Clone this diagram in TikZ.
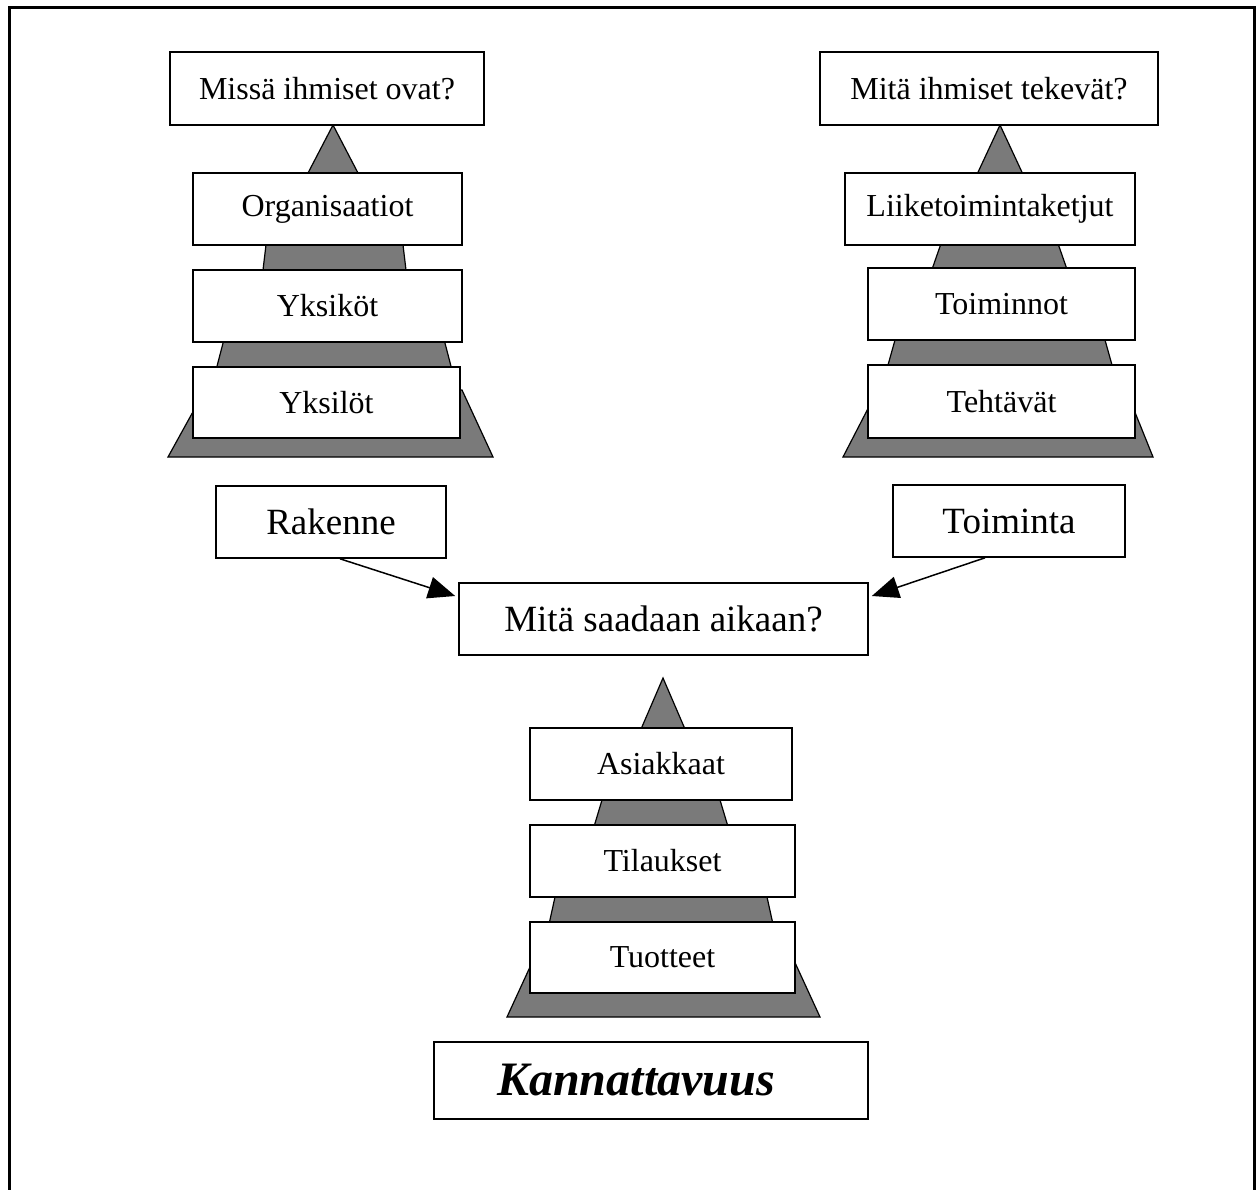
\documentclass[tikz,border=0pt]{standalone}
\usepackage{fontspec}
\setmainfont{Liberation Serif}
\usetikzlibrary{arrows.meta}
\definecolor{pyrgray}{RGB}{122,122,122}
\begin{document}
\begin{tikzpicture}[x=1pt,y=-1pt,
  tier/.style={draw=black, line width=1.6pt, fill=white, inner sep=0pt,
    font=\fontsize{32}{38}\selectfont},
  topic/.style={draw=black, line width=1.6pt, fill=white, inner sep=0pt,
    font=\fontsize{37}{44}\selectfont},
  goal/.style={draw=black, line width=1.6pt, fill=white, inner sep=0pt,
    font=\fontsize{48}{56}\selectfont\bfseries\itshape},
  layer/.style={draw=black, line width=1.2pt, fill=pyrgray, line join=miter},
  link/.style={draw=black, line width=1.5pt, -{Triangle[length=27pt,width=22pt]}}
]
\useasboundingbox (0,0) rectangle (1258,1189);

% outer frame, open at the bottom
\draw[line width=3pt] (9,1200) -- (9,7) -- (1254,7) -- (1254,1200);

% ---- left pyramid: structure ----
\fill[layer] (333,125) -- (371,198) -- (295,198) -- cycle;
\fill[layer] (267.2,235) -- (401.8,235) -- (407.2,280) -- (261.8,280) -- cycle;
\fill[layer] (225.9,332) -- (442.1,332) -- (453.8,377) -- (214.2,377) -- cycle;
\fill[layer] (205,390) -- (462,390) -- (493,457) -- (168,457) -- cycle;

\node[tier, minimum width=314pt, minimum height=73pt] (lq)  at (327,88.5)  {Missä ihmiset ovat?};
\node[tier, minimum width=269pt, minimum height=72pt] (lt1) at (327.5,209) {Organisaatiot};
\node[tier, minimum width=269pt, minimum height=72pt] (lt2) at (327.5,306) {Yksiköt};
\node[tier, minimum width=267pt, minimum height=71pt] (lt3) at (326.5,402.5) {Yksilöt};

% ---- right pyramid: activity ----
\fill[layer] (1000,125) -- (1034,198) -- (966,198) -- cycle;
\fill[layer] (944,235) -- (1055,235) -- (1070,278) -- (929,278) -- cycle;
\fill[layer] (897.8,330) -- (1102.2,330) -- (1114.8,375) -- (885.2,375) -- cycle;
\fill[layer] (875,395) -- (1128,395) -- (1153,457) -- (843,457) -- cycle;

\node[tier, minimum width=338pt, minimum height=73pt] (rq)  at (989,88.5)   {Mitä ihmiset tekevät?};
\node[tier, minimum width=290pt, minimum height=72pt] (rt1) at (990,209)    {Liiketoimintaketjut};
\node[tier, minimum width=267pt, minimum height=72pt] (rt2) at (1001.5,304) {Toiminnot};
\node[tier, minimum width=267pt, minimum height=73pt] (rt3) at (1001.5,401.5) {Tehtävät};

% ---- middle row ----
\node[topic, minimum width=230pt, minimum height=72pt] (rak) at (331,522)   {Rakenne};
\node[topic, minimum width=232pt, minimum height=72pt] (toi) at (1009,521)  {Toiminta};
\node[topic, minimum width=409pt, minimum height=72pt] (mit) at (663.5,619) {Mitä saadaan aikaan?};

\draw[link] ([xshift=9pt]rak.south) -- ([shift={(-3pt,23pt)}]mit.west);
\draw[link] ([xshift=-24pt]toi.south) -- ([shift={(3pt,23pt)}]mit.east);

% ---- bottom pyramid: results ----
\fill[layer] (663,678) -- (694,750) -- (632,750) -- cycle;
\fill[layer] (605,790) -- (717,790) -- (730.5,835) -- (591.5,835) -- cycle;
\fill[layer] (557.2,887) -- (764.8,887) -- (774.7,932) -- (547.3,932) -- cycle;
\fill[layer] (535.5,955) -- (791.5,955) -- (820,1017) -- (507,1017) -- cycle;

\node[tier, minimum width=262pt, minimum height=72pt] (ct1) at (661,764)     {Asiakkaat};
\node[tier, minimum width=265pt, minimum height=72pt] (ct2) at (662.5,861)   {Tilaukset};
\node[tier, minimum width=265pt, minimum height=71pt] (ct3) at (662.5,957.5) {Tuotteet};

\node[goal, minimum width=434pt, minimum height=77pt] (kan) at (651,1080.5) {Kannattavuus\hspace*{30pt}};
\end{tikzpicture}
\end{document}
